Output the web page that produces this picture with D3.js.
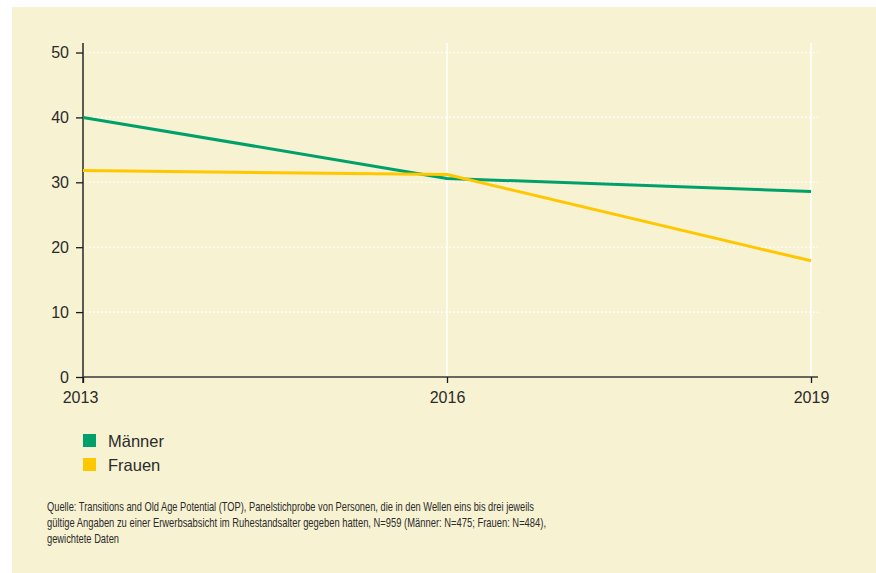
<!DOCTYPE html>
<html>
<head>
<meta charset="utf-8">
<script src="https://cdn.jsdelivr.net/npm/d3@7"></script>
<style>
  html, body { margin: 0; padding: 0; background: #ffffff; }
  svg { display: block; font-family: "Liberation Sans", Arial, Helvetica, sans-serif; }
</style>
</head>
<body>
<svg id="chart" width="876" height="573"></svg>
<script>
// Wave years and shares (in %) by gender
const years = [2013, 2016, 2019];
const maenner = [40.0, 30.6, 28.6];
const frauen = [31.8, 31.2, 17.9];
const yTicks = [0, 10, 20, 30, 40, 50];
const seriesNames = ["Männer", "Frauen"];
const seriesColors = ["#00a06b", "#ffc700"];
const sourceLines = [
  "Quelle: Transitions and Old Age Potential (TOP), Panelstichprobe von Personen, die in den Wellen eins bis drei jeweils",
  "gültige Angaben zu einer Erwerbsabsicht im Ruhestandsalter gegeben hatten, N=959 (Männer: N=475; Frauen: N=484),",
  "gewichtete Daten"
];

const svg = d3.select("#chart");
const textColor = "#2b2b2b";

// cream panel
svg.append("rect")
  .attr("x", 12).attr("y", 7)
  .attr("width", 864).attr("height", 566)
  .attr("fill", "#f7f2d1");

const x = d3.scaleLinear().domain([2013, 2019]).range([83, 811]);
const y = d3.scaleLinear().domain([0, 50]).range([377, 52.5]);
const plotTop = 43;
const plotRight = 818;

// dotted horizontal grid
svg.append("g")
  .selectAll("line")
  .data(yTicks.filter(d => d > 0))
  .join("line")
  .attr("x1", x(2013) + 2).attr("x2", plotRight)
  .attr("y1", d => y(d)).attr("y2", d => y(d))
  .attr("stroke", "#ffffff")
  .attr("stroke-width", 1.6)
  .attr("stroke-dasharray", "1.6,2.4");

// solid vertical grid at later waves
svg.append("g")
  .selectAll("line")
  .data(years.slice(1))
  .join("line")
  .attr("x1", d => x(d)).attr("x2", d => x(d))
  .attr("y1", plotTop).attr("y2", y(0))
  .attr("stroke", "#ffffff")
  .attr("stroke-width", 1.5);

// y axis
const yAxis = svg.append("g")
  .attr("transform", `translate(${x(2013)},0)`)
  .call(d3.axisLeft(y).tickValues(yTicks).tickSize(7).tickPadding(7).tickFormat(d3.format("d")));
yAxis.select(".domain").attr("d", `M0,${plotTop}V${y(0) + 6}`).attr("stroke", "#1a1a1a").attr("stroke-width", 1.4);
yAxis.selectAll(".tick line").attr("stroke", "#1a1a1a").attr("stroke-width", 1.3);
yAxis.selectAll(".tick text").attr("font-size", 16).attr("fill", textColor).attr("font-family", "Liberation Sans, Arial, sans-serif");

// x axis
const xAxis = svg.append("g")
  .attr("transform", `translate(0,${y(0)})`)
  .call(d3.axisBottom(x).tickValues(years).tickSize(6).tickPadding(9).tickFormat(d3.format("d")));
xAxis.select(".domain").attr("d", `M${x(2013)},0H${plotRight}`).attr("stroke", "#3a3a3a").attr("stroke-width", 1.3);
xAxis.selectAll(".tick line").attr("stroke", "#1a1a1a").attr("stroke-width", 1.3);
xAxis.selectAll(".tick text")
  .attr("font-size", 16).attr("fill", textColor).attr("font-family", "Liberation Sans, Arial, sans-serif")
  .attr("dx", (d, i) => i === 0 ? -3 : 0);

// series lines
const line = d3.line().x((d, i) => x(years[i])).y(d => y(d));
[maenner, frauen].forEach((vals, k) => {
  svg.append("path")
    .datum(vals)
    .attr("d", line)
    .attr("fill", "none")
    .attr("stroke", seriesColors[k])
    .attr("stroke-width", 3)
    .attr("stroke-linejoin", "round");
});

// legend
const legend = svg.append("g");
seriesNames.forEach((name, i) => {
  const gy = 434 + i * 24;
  legend.append("rect")
    .attr("x", 83).attr("y", gy)
    .attr("width", 13).attr("height", 13)
    .attr("fill", seriesColors[i]);
  legend.append("text")
    .attr("x", 108).attr("y", gy + 13)
    .attr("font-size", 16.5)
    .attr("fill", textColor)
    .text(name);
});

// source note
const note = svg.append("g");
const noteWidths = [487, 499, 72];
sourceLines.forEach((t, i) => {
  note.append("text")
    .attr("x", 47).attr("y", 511 + i * 16)
    .attr("font-size", 13)
    .attr("fill", textColor)
    .attr("textLength", noteWidths[i])
    .attr("lengthAdjust", "spacingAndGlyphs")
    .text(t);
});
</script>
</body>
</html>
